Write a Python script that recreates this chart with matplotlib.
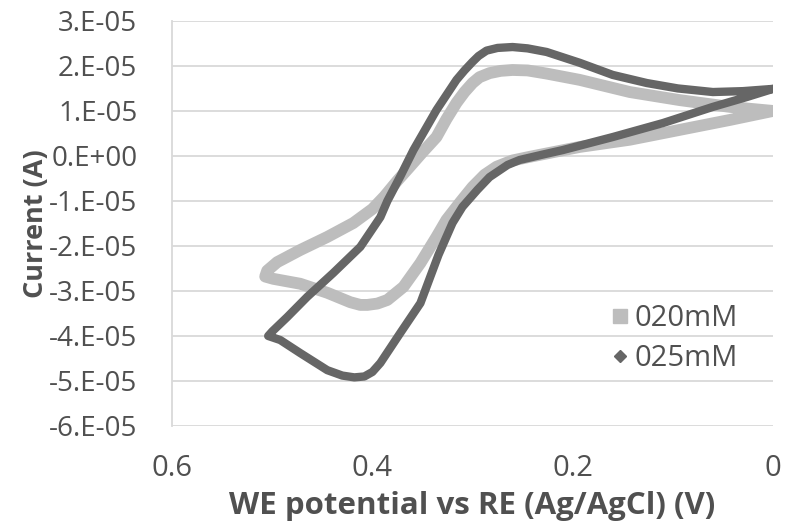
import matplotlib
matplotlib.use("Agg")
import matplotlib.pyplot as plt
from matplotlib.lines import Line2D

# --- data (potential in V, current in 1e-5 A) ---
v_020 = [0.000, 0.043, 0.093, 0.143, 0.193, 0.226, 0.245, 0.260, 0.272, 0.283,
         0.293, 0.300, 0.308, 0.316, 0.326, 0.336, 0.350, 0.363, 0.375, 0.388,
         0.400, 0.419, 0.445, 0.472, 0.495, 0.505, 0.507, 0.499, 0.472, 0.445,
         0.422, 0.412, 0.405, 0.395, 0.385, 0.369, 0.352, 0.336, 0.326, 0.312,
         0.300, 0.288, 0.276, 0.260, 0.243, 0.193, 0.143, 0.093, 0.043, 0.000]
i_020 = [1.00, 1.09, 1.24, 1.42, 1.69, 1.83, 1.90, 1.91, 1.89, 1.84,
         1.75, 1.62, 1.42, 1.18, 0.82, 0.42, 0.08, -0.25, -0.55, -0.90,
         -1.18, -1.49, -1.80, -2.09, -2.36, -2.55, -2.68, -2.73, -2.84, -3.04,
         -3.25, -3.31, -3.31, -3.28, -3.20, -2.91, -2.38, -1.80, -1.42, -1.02,
         -0.69, -0.42, -0.24, -0.10, -0.02, 0.20, 0.36, 0.58, 0.80, 1.00]

v_025 = [0.000, 0.030, 0.060, 0.095, 0.126, 0.160, 0.193, 0.226, 0.245, 0.260,
         0.275, 0.286, 0.294, 0.300, 0.308, 0.316, 0.336, 0.359, 0.372, 0.385,
         0.392, 0.412, 0.439, 0.465, 0.485, 0.500, 0.504, 0.492, 0.472, 0.445,
         0.430, 0.418, 0.408, 0.400, 0.392, 0.372, 0.352, 0.334, 0.320, 0.310,
         0.295, 0.283, 0.265, 0.253, 0.230, 0.210, 0.160, 0.110, 0.060, 0.026,
         0.000]
i_025 = [1.49, 1.44, 1.42, 1.50, 1.62, 1.80, 2.07, 2.31, 2.39, 2.42,
         2.40, 2.34, 2.22, 2.09, 1.90, 1.69, 1.02, 0.13, -0.45, -1.00,
         -1.36, -2.02, -2.60, -3.13, -3.58, -3.90, -4.00, -4.09, -4.38, -4.76,
         -4.88, -4.92, -4.90, -4.80, -4.60, -3.93, -3.27, -2.20, -1.49, -1.13,
         -0.75, -0.47, -0.20, -0.09, 0.03, 0.13, 0.42, 0.73, 1.09, 1.31,
         1.49]

y_ticks = [3e-5, 2e-5, 1e-5, 0, -1e-5, -2e-5, -3e-5, -4e-5, -5e-5, -6e-5]
y_tick_labels = ["3.E-05", "2.E-05", "1.E-05", "0.E+00", "-1.E-05", "-2.E-05",
                 "-3.E-05", "-4.E-05", "-5.E-05", "-6.E-05"]
x_ticks = [0.6, 0.4, 0.2, 0.0]
x_tick_labels = ["0.6", "0.4", "0.2", "0"]

LIGHT = "#bdbdbd"
DARK = "#666666"
TEXT = "#505050"

plt.rcParams["font.family"] = ["Open Sans", "DejaVu Sans"]

fig = plt.figure(figsize=(7.87, 5.23), dpi=100)
ax = fig.add_axes([0.2186, 0.1855, 0.7636, 0.7745])

ax.plot(v_020, [c * 1e-5 for c in i_020], color=LIGHT, lw=8.5,
        solid_joinstyle="round", solid_capstyle="butt", zorder=2)
ax.plot(v_025, [c * 1e-5 for c in i_025], color=DARK, lw=6,
        solid_joinstyle="round", solid_capstyle="round", zorder=3)

ax.set_xlim(0.6, 0.0)
ax.set_ylim(-6e-5, 3e-5)
ax.set_xticks(x_ticks)
ax.set_xticklabels(x_tick_labels)
ax.set_yticks(y_ticks)
ax.set_yticklabels(y_tick_labels)
ax.tick_params(length=0, labelcolor=TEXT)
ax.tick_params(axis="y", pad=25, labelsize=20)
ax.tick_params(axis="x", pad=20, labelsize=21)

ax.grid(axis="y", color="#d9d9d9", lw=1.3)
ax.set_axisbelow(True)
for side in ["top", "right", "bottom"]:
    ax.spines[side].set_visible(False)
ax.spines["left"].set_color("#d9d9d9")
ax.spines["left"].set_linewidth(1.3)

ax.set_ylabel("Current (A)", fontsize=19.5, fontweight="bold", color=TEXT, labelpad=0)
ax.set_xlabel("WE potential vs RE (Ag/AgCl) (V)", fontsize=22.5,
              fontweight="bold", color=TEXT, labelpad=6)

handles = [
    Line2D([], [], ls="none", marker="s", ms=10, color=LIGHT, label="020mM"),
    Line2D([], [], ls="none", marker="D", ms=6, color=DARK, label="025mM"),
]
ax.legend(handles=handles, loc="upper left", bbox_to_anchor=(0.706, 0.337),
          frameon=False, fontsize=21, handlelength=0.6, handletextpad=0.2,
          labelspacing=0.38, borderpad=0, labelcolor=TEXT)

fig.savefig("out.png", dpi=100)
